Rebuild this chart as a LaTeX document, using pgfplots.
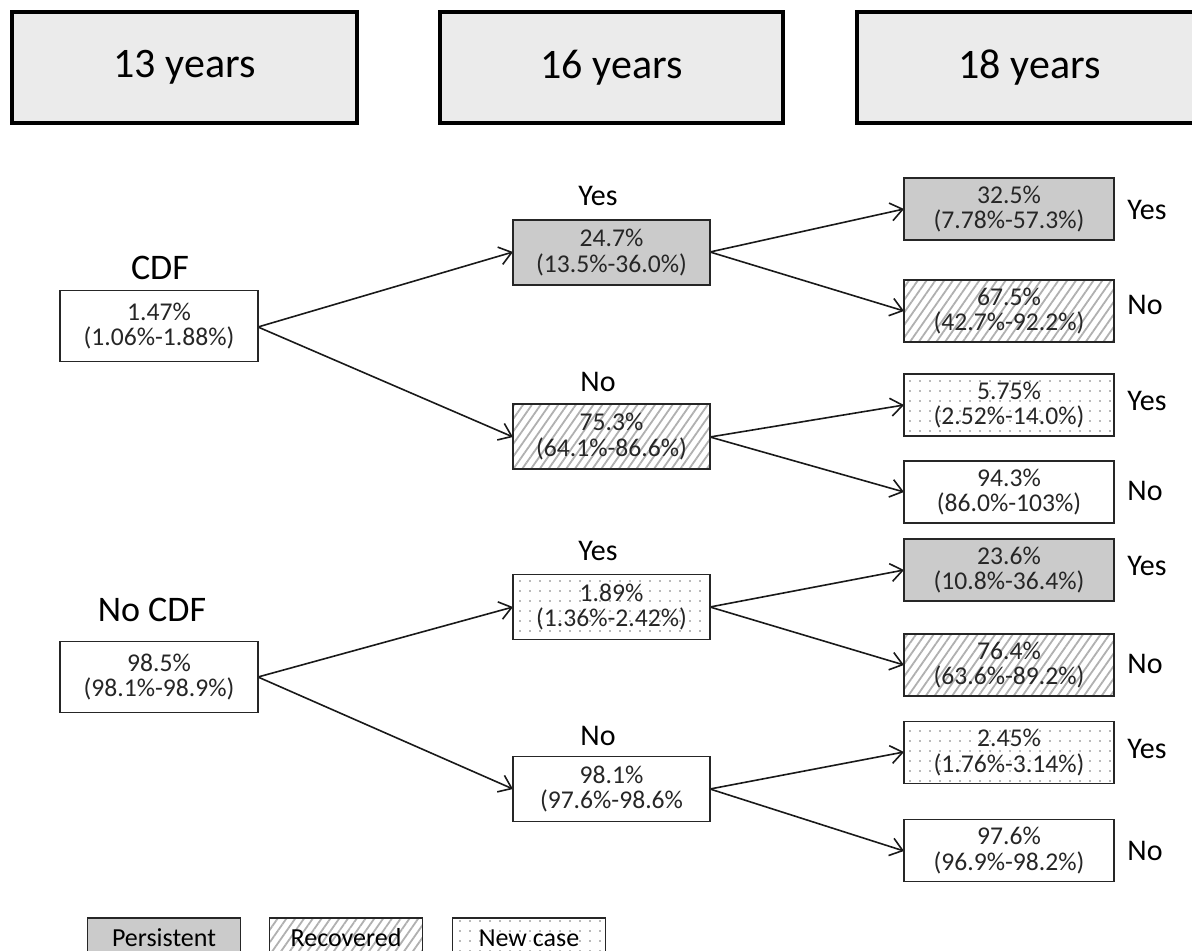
\documentclass[border=0pt]{standalone}
\usepackage{pgfplots}
\pgfplotsset{compat=1.18}
\usepackage{fontspec}
\setmainfont{Carlito}
\usetikzlibrary{patterns.meta,arrows.meta}
\definecolor{persist}{HTML}{CBCBCB}
\definecolor{header}{HTML}{EBEBEB}
\definecolor{hatch}{HTML}{B0B0B0}
\tikzset{
  box/.style={draw=black!85, line width=0.9pt, inner sep=0pt, align=center,
     font=\fontsize{12.8}{12.8}\selectfont, text=black!85},
  l1/.style={box, minimum width=99pt, minimum height=35.5pt},
  l2/.style={box, minimum width=98.5pt, minimum height=32.5pt},
  l3/.style={box, minimum width=105pt, minimum height=31pt},
  hdr/.style={draw=black, line width=2pt, fill=header, minimum width=172.5pt,
     minimum height=55.5pt, inner sep=0pt, font=\fontsize{21}{24}\selectfont},
  persistent/.style={fill=persist},
  recovered/.style={pattern={Lines[angle=55,distance=3.6pt,line width=0.9pt]}, pattern color=hatch},
  newcase/.style={pattern={Dots[distance=5pt,radius=0.45pt]}, pattern color=black!55},
  lab/.style={font=\fontsize{15}{17}\selectfont, inner sep=0pt},
  grp/.style={font=\fontsize{18}{20}\selectfont, inner sep=0pt},
  leg/.style={draw=black!85, line width=0.9pt, minimum width=76.5pt, minimum height=20pt,
     inner sep=0pt, anchor=north, font=\fontsize{13}{14}\selectfont},
  arr/.style={black!90, line width=0.8pt, mark=none, -{Straight Barb[length=6pt,width=9pt]}}
}
\begin{document}
\begin{tikzpicture}
\begin{axis}[
  scale only axis, width=596pt, height=475.5pt,
  xmin=0, xmax=1192, ymin=0, ymax=951, y dir=reverse,
  hide axis, clip=false]
% arrows
\addplot[arr] coordinates {(258,327) (513,252)};
\addplot[arr] coordinates {(258,327) (513,437)};
\addplot[arr] coordinates {(258,677) (513,607)};
\addplot[arr] coordinates {(258,677) (513,789)};
\addplot[arr] coordinates {(710,252) (904,209)};
\addplot[arr] coordinates {(710,252) (904,311)};
\addplot[arr] coordinates {(710,437) (904,405)};
\addplot[arr] coordinates {(710,437) (904,492)};
\addplot[arr] coordinates {(710,607) (904,570)};
\addplot[arr] coordinates {(710,607) (904,665)};
\addplot[arr] coordinates {(710,789) (904,752)};
\addplot[arr] coordinates {(710,789) (904,851)};
% headers
\node[hdr] at (axis cs:184.5,67.5) {13 years};
\node[hdr, minimum width=171.5pt] at (axis cs:611.5,67.5) {16 years};
\node[hdr] at (axis cs:1029.5,67.5) {18 years};
% level 1
\node[grp] at (axis cs:160,268) {CDF};
\node[l1, fill=white] at (axis cs:159,326) {1.47\%\\(1.06\%-1.88\%)};
\node[grp] at (axis cs:152,610) {No CDF};
\node[l1, fill=white] at (axis cs:159,677) {98.5\%\\(98.1\%-98.9\%)};
% level 2
\node[lab] at (axis cs:598,196) {Yes};
\node[l2, persistent] at (axis cs:611.5,252.5) {24.7\%\\(13.5\%-36.0\%)};
\node[lab] at (axis cs:598,382) {No};
\node[l2, recovered] at (axis cs:611.5,436.5) {75.3\%\\(64.1\%-86.6\%)};
\node[lab] at (axis cs:598,551) {Yes};
\node[l2, newcase] at (axis cs:611.5,607) {1.89\%\\(1.36\%-2.42\%)};
\node[lab] at (axis cs:598,736) {No};
\node[l2] at (axis cs:611.5,789) {98.1\%\\(97.6\%-98.6\%};
% level 3
\node[l3, persistent] at (axis cs:1009,209) {32.5\%\\(7.78\%-57.3\%)};
\node[l3, recovered] at (axis cs:1009,311) {67.5\%\\(42.7\%-92.2\%)};
\node[l3, newcase] at (axis cs:1009,405) {5.75\%\\(2.52\%-14.0\%)};
\node[l3] at (axis cs:1009,492) {94.3\%\\(86.0\%-103\%)};
\node[l3, persistent] at (axis cs:1009,570) {23.6\%\\(10.8\%-36.4\%)};
\node[l3, recovered] at (axis cs:1009,665) {76.4\%\\(63.6\%-89.2\%)};
\node[l3, newcase] at (axis cs:1009,752.5) {2.45\%\\(1.76\%-3.14\%)};
\node[l3] at (axis cs:1009,850.5) {97.6\%\\(96.9\%-98.2\%)};
\node[lab] at (axis cs:1147,210) {Yes};
\node[lab] at (axis cs:1145,305) {No};
\node[lab] at (axis cs:1147,401) {Yes};
\node[lab] at (axis cs:1145,491) {No};
\node[lab] at (axis cs:1147,566) {Yes};
\node[lab] at (axis cs:1145,664) {No};
\node[lab] at (axis cs:1147,749) {Yes};
\node[lab] at (axis cs:1145,851) {No};
% legend
\node[leg, persistent] at (axis cs:164,917) {Persistent};
\node[leg, recovered] at (axis cs:346,917) {Recovered};
\node[leg, newcase] at (axis cs:529,917) {New case};
\coordinate (BL) at (axis cs:0,951);
\coordinate (TR) at (axis cs:1192,0);
\end{axis}
\pgfresetboundingbox
\path (BL) rectangle (TR);
\end{tikzpicture}
\end{document}
